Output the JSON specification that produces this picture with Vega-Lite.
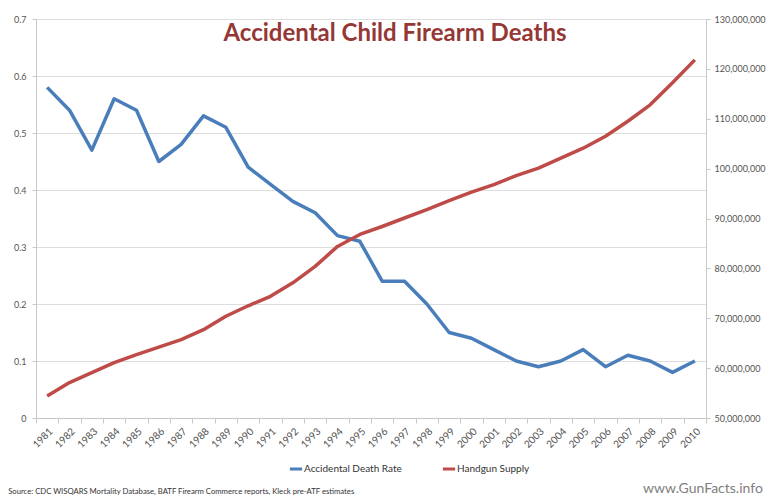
{
  "$schema": "https://vega.github.io/schema/vega-lite/v6.json",
  "width": 670,
  "height": 399,
  "autosize": {"type": "none"},
  "padding": {"left": 36, "top": 19, "right": 67, "bottom": 84},
  "background": "white",
  "config": {"font": "Lato", "view": {"stroke": null}},
  "title": {
    "text": "Accidental Child Firearm Deaths",
    "color": "#953735",
    "fontSize": 24,
    "fontWeight": "bold",
    "font": "Lato",
    "anchor": "middle",
    "offset": -31,
    "dx": 24
  },
  "data": {
    "values": [
      {"year": 1981, "rate": 0.58, "supply": 54400000},
      {"year": 1982, "rate": 0.54, "supply": 57100000},
      {"year": 1983, "rate": 0.47, "supply": 59100000},
      {"year": 1984, "rate": 0.56, "supply": 61100000},
      {"year": 1985, "rate": 0.54, "supply": 62700000},
      {"year": 1986, "rate": 0.45, "supply": 64200000},
      {"year": 1987, "rate": 0.48, "supply": 65700000},
      {"year": 1988, "rate": 0.53, "supply": 67700000},
      {"year": 1989, "rate": 0.51, "supply": 70400000},
      {"year": 1990, "rate": 0.44, "supply": 72500000},
      {"year": 1991, "rate": 0.41, "supply": 74400000},
      {"year": 1992, "rate": 0.38, "supply": 77100000},
      {"year": 1993, "rate": 0.36, "supply": 80400000},
      {"year": 1994, "rate": 0.32, "supply": 84400000},
      {"year": 1995, "rate": 0.31, "supply": 86800000},
      {"year": 1996, "rate": 0.24, "supply": 88400000},
      {"year": 1997, "rate": 0.24, "supply": 90100000},
      {"year": 1998, "rate": 0.20, "supply": 91800000},
      {"year": 1999, "rate": 0.15, "supply": 93600000},
      {"year": 2000, "rate": 0.14, "supply": 95300000},
      {"year": 2001, "rate": 0.12, "supply": 96800000},
      {"year": 2002, "rate": 0.10, "supply": 98600000},
      {"year": 2003, "rate": 0.09, "supply": 100100000},
      {"year": 2004, "rate": 0.10, "supply": 102100000},
      {"year": 2005, "rate": 0.12, "supply": 104100000},
      {"year": 2006, "rate": 0.09, "supply": 106500000},
      {"year": 2007, "rate": 0.11, "supply": 109500000},
      {"year": 2008, "rate": 0.10, "supply": 112800000},
      {"year": 2009, "rate": 0.08, "supply": 117200000},
      {"year": 2010, "rate": 0.10, "supply": 121800000}
    ]
  },
  "encoding": {
    "x": {
      "field": "year",
      "type": "ordinal",
      "bandPosition": 0.5,
      "scale": {"type": "band", "paddingInner": 0, "paddingOuter": 0},
      "axis": {
        "title": null,
        "labelAngle": -45,
        "labelFontSize": 10,
        "labelColor": "#505050",
        "labelPadding": 3,
        "tickBand": "extent",
        "tickSize": 5,
        "tickColor": "#c8c8c8",
        "domainColor": "#c8c8c8",
        "grid": false
      }
    }
  },
  "layer": [
    {
      "layer": [
        {
          "mark": {"type": "line", "strokeWidth": 3.5, "strokeJoin": "round"},
          "encoding": {
            "y": {
              "field": "rate",
              "type": "quantitative",
              "scale": {"domain": [0, 0.7], "nice": false, "zero": false},
              "axis": {
                "title": null,
                "format": ".1~f",
                "values": [0, 0.1, 0.2, 0.3, 0.4, 0.5, 0.6, 0.7],
                "labelFontSize": 9,
                "labelColor": "#555555",
                "tickColor": "#c8c8c8",
                "tickSize": 4,
                "domainColor": "#c8c8c8",
                "gridColor": "#dddddd",
                "labelPadding": 6
              }
            },
            "color": {
              "datum": "Accidental Death Rate",
              "type": "nominal",
              "scale": {
                "domain": ["Accidental Death Rate", "Handgun Supply"],
                "range": ["#4A7EBB", "#BE4B48"]
              },
              "legend": {
                "orient": "none",
                "legendX": 252,
                "legendY": 442,
                "direction": "horizontal",
                "title": null,
                "symbolType": "stroke",
                "symbolStrokeWidth": 3,
                "symbolSize": 150,
                "labelFontSize": 10,
                "labelColor": "#333333",
                "labelOffset": 0,
                "columnPadding": 34
              }
            }
          }
        },
        {
          "data": {"values": [{"label": "Source: CDC WISQARS Mortality Database, BATF Firearm Commerce reports, Kleck pre-ATF estimates"}]},
          "mark": {"type": "text", "align": "left", "baseline": "middle", "fontSize": 7.7, "color": "#333333", "dx": -39},
          "encoding": {
            "x": {"datum": 1981, "bandPosition": 0.5},
            "y": {"datum": -0.13},
            "text": {"field": "label"}
          }
        },
        {
          "data": {"values": [{"label": "www.GunFacts.info"}]},
          "mark": {"type": "text", "align": "right", "baseline": "middle", "fontSize": 14, "color": "#808080", "dx": 68},
          "encoding": {
            "x": {"datum": 2010, "bandPosition": 0.5},
            "y": {"datum": -0.125},
            "text": {"field": "label"}
          }
        }
      ]
    },
    {
      "mark": {"type": "line", "strokeWidth": 3.5, "strokeJoin": "round"},
      "encoding": {
        "y": {
          "field": "supply",
          "type": "quantitative",
          "scale": {"domain": [50000000, 130000000], "nice": false, "zero": false},
          "axis": {
            "orient": "right",
            "title": null,
            "grid": false,
            "format": ",d",
            "values": [50000000, 60000000, 70000000, 80000000, 90000000, 100000000, 110000000, 120000000, 130000000],
            "labelFontSize": 9,
            "labelColor": "#555555",
            "tickColor": "#c8c8c8",
            "tickSize": 4,
            "domainColor": "#c8c8c8",
            "labelPadding": 4
          }
        },
        "color": {"datum": "Handgun Supply", "type": "nominal"}
      }
    }
  ],
  "resolve": {"scale": {"y": "independent"}}
}
